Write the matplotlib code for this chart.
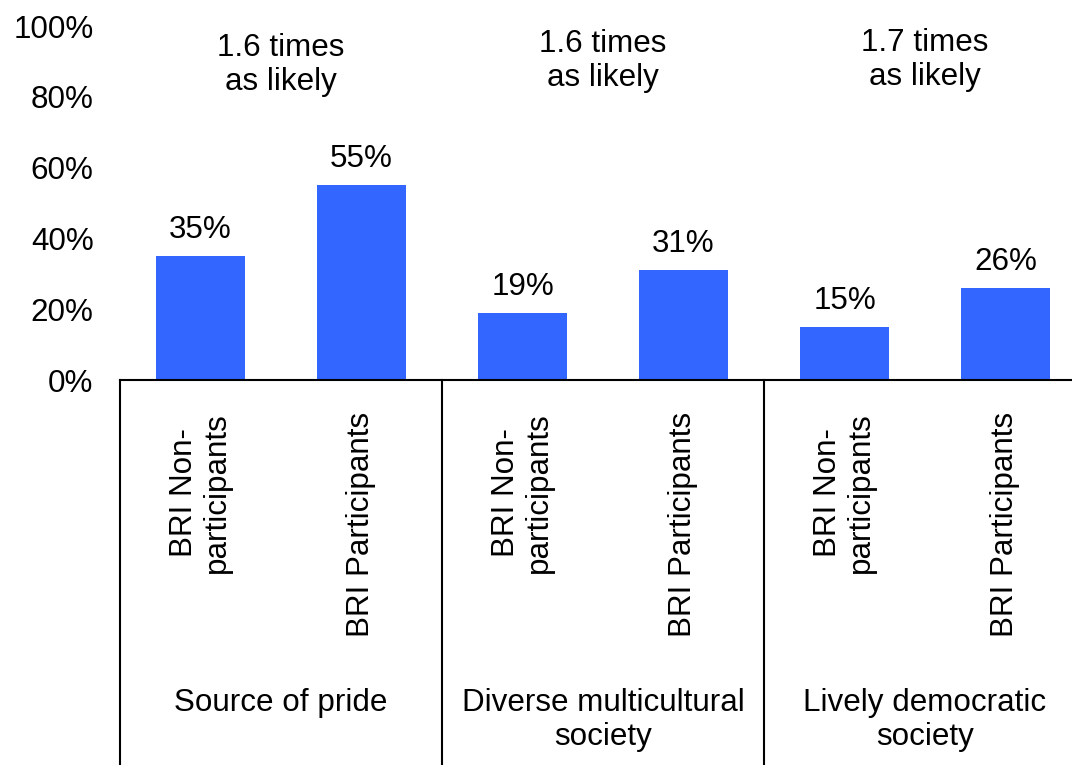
import matplotlib
matplotlib.use("Agg")
import matplotlib.pyplot as plt

plt.rcParams['font.family'] = ['Liberation Sans', 'DejaVu Sans']

groups = ["Source of pride", "Diverse multicultural\nsociety", "Lively democratic\nsociety"]
bar_labels = ["BRI Non-\nparticipants", "BRI Participants"] * 3
values = [0.35, 0.55, 0.19, 0.31, 0.15, 0.26]
value_text = ["35%", "55%", "19%", "31%", "15%", "26%"]
ratio_text = ["1.6 times\nas likely", "1.6 times\nas likely", "1.7 times\nas likely"]
yticks = [0, 0.2, 0.4, 0.6, 0.8, 1.0]
ytick_labels = ["0%", "20%", "40%", "60%", "80%", "100%"]

blue = "#3366FF"
fs = 22.6
ls = 1.17

fig = plt.figure(figsize=(10.72, 7.65), dpi=100)
W, H = 1072, 765
# axes from x=120 to 1086 px, y=26 to 380 px
ax = fig.add_axes([120 / W, (H - 380) / H, 966 / W, 354 / H])

xs = list(range(len(values)))
ax.bar(xs, values, width=0.555, color=blue)
ax.set_xlim(-0.5, 5.5)
ax.set_ylim(0, 1)

for x, v, t in zip(xs, values, value_text):
    ax.annotate(t, (x, v), xytext=(0, 13), textcoords='offset points',
                ha='center', va='baseline', fontsize=fs)

ax.set_yticks(yticks)
ax.set_yticklabels(ytick_labels, fontsize=fs)
ax.tick_params(axis='y', length=0, pad=19)

ax.set_xticks(xs)
ax.set_xticklabels(bar_labels, rotation=90, fontsize=fs, va='top', ha='center',
                   multialignment='center', linespacing=ls)
ax.tick_params(axis='x', length=0, pad=23)

for s in ['top', 'right', 'left']:
    ax.spines[s].set_visible(False)
ax.spines['bottom'].set_linewidth(1.5)

# group separators
for gx in [-0.5, 1.5, 3.5]:
    ax.plot([gx, gx], [0, -1.2], color='black', lw=1.5, clip_on=False)

ratio_y = [0.891, 0.90, 0.905]
for i, g in enumerate(groups):
    cx = 2 * i + 0.5
    ax.text(cx, -0.87, g, ha='center', va='top', fontsize=fs, linespacing=ls)
    ax.text(cx, ratio_y[i], ratio_text[i], ha='center', va='center',
            fontsize=fs, linespacing=ls)

fig.savefig("out.png", dpi=100)
